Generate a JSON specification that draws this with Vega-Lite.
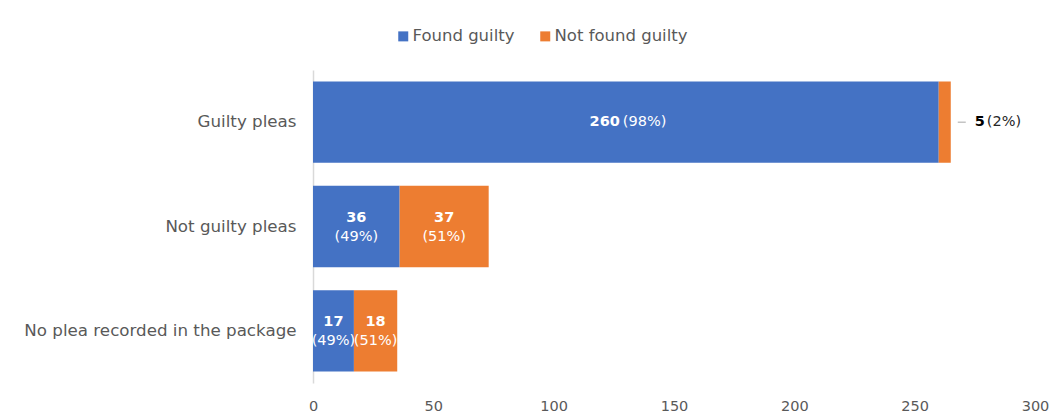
{
  "$schema": "https://vega.github.io/schema/vega-lite/v6.json",
  "width": 722,
  "height": 313,
  "autosize": {"type": "none"},
  "padding": {"left": 313, "top": 70, "right": 27, "bottom": 35},
  "background": "white",
  "config": {
    "font": "DejaVu Sans",
    "view": {"stroke": null},
    "axis": {"labelFont": "DejaVu Sans", "labelColor": "#595959", "labelFontSize": 14.5}
  },
  "data": {
    "values": [
      {"plea": "Guilty pleas", "outcome": "Found guilty", "count": 260, "pct": 98},
      {"plea": "Guilty pleas", "outcome": "Not found guilty", "count": 5, "pct": 2},
      {"plea": "Not guilty pleas", "outcome": "Found guilty", "count": 36, "pct": 49},
      {"plea": "Not guilty pleas", "outcome": "Not found guilty", "count": 37, "pct": 51},
      {"plea": "No plea recorded in the package", "outcome": "Found guilty", "count": 17, "pct": 49},
      {"plea": "No plea recorded in the package", "outcome": "Not found guilty", "count": 18, "pct": 51}
    ]
  },
  "transform": [
    {"stack": "count", "groupby": ["plea"], "sort": [{"field": "outcome", "order": "ascending"}], "as": ["x0", "x1"]},
    {"calculate": "(datum.x0 + datum.x1) / 2", "as": "mid"},
    {"calculate": "'(' + datum.pct + '%)'", "as": "pctLabel"}
  ],
  "encoding": {
    "y": {
      "field": "plea", "type": "nominal",
      "sort": ["Guilty pleas", "Not guilty pleas", "No plea recorded in the package"],
      "scale": {"paddingInner": 0.22, "paddingOuter": 0.11},
      "axis": {"title": null, "ticks": false, "labelPadding": 17, "labelLimit": 400, "labelFontSize": 16.7, "domainColor": "#d9d9d9", "domainWidth": 1.5}
    }
  },
  "layer": [
    {
      "mark": {"type": "bar"},
      "encoding": {
        "x": {"field": "x0", "type": "quantitative",
          "scale": {"domain": [0, 300], "nice": false},
          "axis": {"title": null, "values": [0, 50, 100, 150, 200, 250, 300], "grid": false, "ticks": false, "domain": false, "labelPadding": 16, "labelFlush": false}},
        "x2": {"field": "x1"},
        "color": {
          "field": "outcome", "type": "nominal",
          "scale": {"domain": ["Found guilty", "Not found guilty"], "range": ["#4472C4", "#ED7D31"]},
          "legend": {"title": null, "orient": "none", "legendX": 82, "legendY": -42, "direction": "horizontal",
            "symbolType": "square", "symbolSize": 100, "symbolStrokeWidth": 0, "labelFontSize": 16.5, "labelColor": "#595959",
            "labelFont": "DejaVu Sans", "columnPadding": 22, "labelOffset": 1}
        }
      }
    },
    {
      "transform": [{"filter": "datum.plea !== 'Guilty pleas'"}],
      "mark": {"type": "text", "color": "white", "fontWeight": "bold", "fontSize": 14.5, "dy": -9},
      "encoding": {"x": {"field": "mid", "type": "quantitative"}, "text": {"field": "count"}}
    },
    {
      "transform": [{"filter": "datum.plea !== 'Guilty pleas'"}],
      "mark": {"type": "text", "color": "white", "fontSize": 14.5, "dy": 10.5},
      "encoding": {"x": {"field": "mid", "type": "quantitative"}, "text": {"field": "pctLabel"}}
    },
    {
      "transform": [{"filter": "datum.plea === 'Guilty pleas' && datum.outcome === 'Found guilty'"}],
      "mark": {"type": "text", "color": "white", "fontWeight": "bold", "fontSize": 14.5, "align": "right", "dx": -6},
      "encoding": {"x": {"field": "mid", "type": "quantitative"}, "text": {"field": "count"}}
    },
    {
      "transform": [{"filter": "datum.plea === 'Guilty pleas' && datum.outcome === 'Found guilty'"}],
      "mark": {"type": "text", "color": "white", "fontSize": 14.5, "align": "left", "dx": -3},
      "encoding": {"x": {"field": "mid", "type": "quantitative"}, "text": {"field": "pctLabel"}}
    },
    {
      "transform": [{"filter": "datum.plea === 'Guilty pleas' && datum.outcome === 'Not found guilty'"}],
      "mark": {"type": "rule", "color": "#a6a6a6", "strokeWidth": 1, "xOffset": 7, "x2Offset": 15},
      "encoding": {"x": {"field": "x1", "type": "quantitative"}, "x2": {"field": "x1"}}
    },
    {
      "transform": [{"filter": "datum.plea === 'Guilty pleas' && datum.outcome === 'Not found guilty'"}],
      "mark": {"type": "text", "color": "black", "fontWeight": "bold", "fontSize": 14.5, "align": "left", "dx": 24},
      "encoding": {"x": {"field": "x1", "type": "quantitative"}, "text": {"field": "count"}}
    },
    {
      "transform": [{"filter": "datum.plea === 'Guilty pleas' && datum.outcome === 'Not found guilty'"}],
      "mark": {"type": "text", "color": "#262626", "fontSize": 14.5, "align": "left", "dx": 36},
      "encoding": {"x": {"field": "x1", "type": "quantitative"}, "text": {"field": "pctLabel"}}
    }
  ]
}
